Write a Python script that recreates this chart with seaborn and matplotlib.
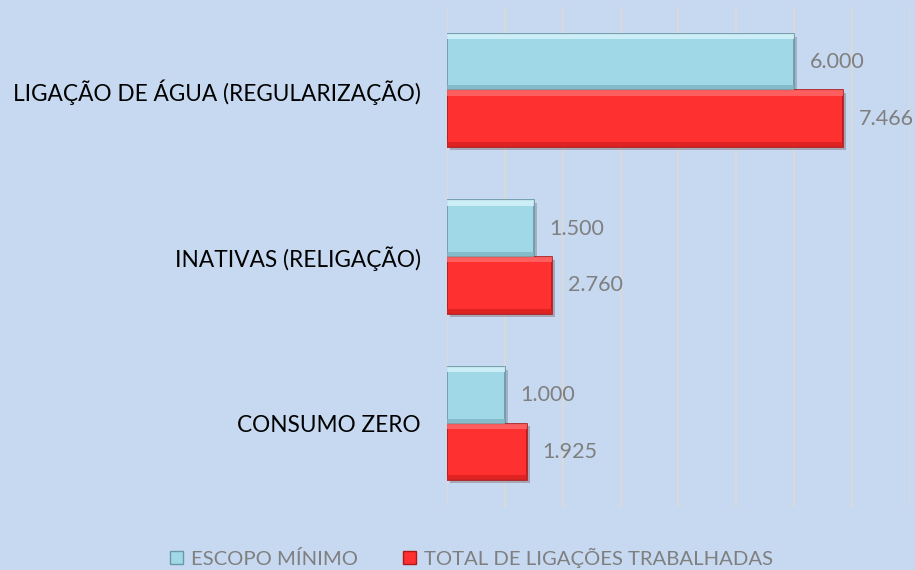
import pandas as pd
import matplotlib.pyplot as plt
import matplotlib.patheffects as pe
from matplotlib.patches import Rectangle
import seaborn as sns

sns.set_theme(style="white")
plt.rcParams['font.family'] = ['Lato', 'DejaVu Sans']

# data
categories = ['LIGAÇÃO DE ÁGUA (REGULARIZAÇÃO)', 'INATIVAS (RELIGAÇÃO)', 'CONSUMO ZERO']
series = ['ESCOPO MÍNIMO', 'TOTAL DE LIGAÇÕES TRABALHADAS']
escopo_values = [6000, 1500, 1000]
escopo_labels = ['6.000', '1.500', '1.000']
# red bar lengths as drawn in the reference (they are shorter than their labels)
total_values = [6850, 1820, 1380]
total_labels = ['7.466', '2.760', '1.925']

BG = '#C6D9F0'
colors = {'ESCOPO MÍNIMO': '#A0D8E8', 'TOTAL DE LIGAÇÕES TRABALHADAS': '#FF3030'}
edges = {'ESCOPO MÍNIMO': '#6A98A4', 'TOTAL DE LIGAÇÕES TRABALHADAS': '#B01818'}
lights = {'ESCOPO MÍNIMO': '#D8F6FC', 'TOTAL DE LIGAÇÕES TRABALHADAS': '#FF6A6A'}
darks = {'ESCOPO MÍNIMO': '#80B4C2', 'TOTAL DE LIGAÇÕES TRABALHADAS': '#D82020'}

df = pd.DataFrame({
    'categoria': categories * 2,
    'serie': [series[0]] * 3 + [series[1]] * 3,
    'valor': escopo_values + total_values,
})

fig = plt.figure(figsize=(9.15, 5.70), dpi=100)
fig.patch.set_facecolor(BG)
ax = fig.add_axes([0.4885, 0.1105, 0.506, 0.877])
ax.set_facecolor(BG)

sns.barplot(data=df, y='categoria', x='valor', hue='serie', order=categories,
            hue_order=series, palette=colors, width=0.68, orient='h',
            saturation=1, ax=ax, legend=False, zorder=3)

ax.set_xlim(0, 8000)
ax.set_xticks(range(0, 8001, 1000))
ax.xaxis.grid(True, color='#D9D9D9', linewidth=1.5, zorder=0)
ax.set_axisbelow(True)
ax.tick_params(axis='x', labelbottom=False, length=0)
ax.tick_params(axis='y', length=0, pad=19, labelsize=16.3, labelcolor='black')
ax.set_xlabel('')
ax.set_ylabel('')
for s in ax.spines.values():
    s.set_visible(False)

# bevel look + labels, per bar in drawing order
ordered = [(series[0], i) for i in range(3)] + [(series[1], i) for i in range(3)]
for patch, (ser, i) in zip(ax.patches, ordered):
    patch.set_edgecolor(edges[ser])
    patch.set_linewidth(1.2)
    patch.set_path_effects([pe.SimplePatchShadow(offset=(2, -2), alpha=0.25), pe.Normal()])
    x0, y0 = patch.get_x(), patch.get_y()
    w, h = patch.get_width(), patch.get_height()
    # highlight along the top edge, darker strip along the bottom edge
    ax.add_patch(Rectangle((x0, y0), w, h * 0.09, facecolor=lights[ser],
                           edgecolor='none', alpha=0.8, zorder=4))
    ax.add_patch(Rectangle((x0, y0 + h * 0.91), w, h * 0.09, facecolor=darks[ser],
                           edgecolor='none', alpha=0.8, zorder=4))
    lab = escopo_labels[i] if ser == series[0] else total_labels[i]
    ax.annotate(lab, (x0 + w, y0 + h / 2), xytext=(11, 0), textcoords='offset points',
                va='center', ha='left', fontsize=15.5, color='#7F7F7F')

handles = [Rectangle((0, 0), 1, 1, facecolor=colors[s], edgecolor=edges[s]) for s in series]
leg = fig.legend(handles, series, loc='lower center', bbox_to_anchor=(0.515, -0.028), ncol=2,
                 frameon=False, fontsize=14.6, handlelength=0.65, handleheight=0.65,
                 handletextpad=0.4, columnspacing=2.2)
for t in leg.get_texts():
    t.set_color('#7F7F7F')

plt.savefig('out.png', dpi=100, facecolor=BG)
